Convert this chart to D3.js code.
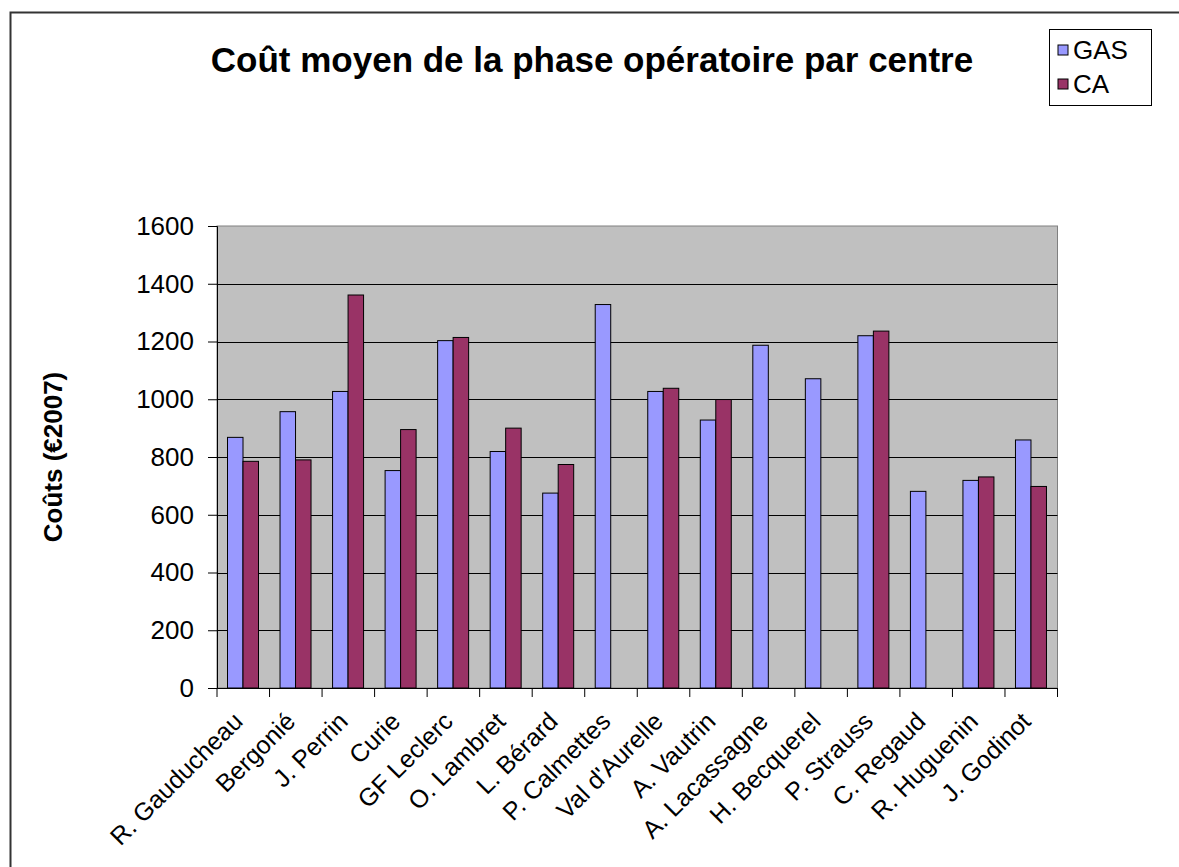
<!DOCTYPE html>
<html>
<head>
<meta charset="utf-8">
<script src="https://cdn.jsdelivr.net/npm/d3@7"></script>
<style>
  body { margin: 0; background: #fff; }
  text { font-family: "Liberation Sans", Arial, sans-serif; }
</style>
</head>
<body>
<div id="chart"></div>
<script>
const centres = ['R. Gauducheau', 'Bergonié', 'J. Perrin', 'Curie', 'GF Leclerc', 'O. Lambret',
  'L. Bérard', 'P. Calmettes', "Val d'Aurelle", 'A. Vautrin', 'A. Lacassagne', 'H. Becquerel',
  'P. Strauss', 'C. Regaud', 'R. Huguenin', 'J. Godinot'];
const gas = [868, 957, 1027, 753, 1203, 819, 675, 1328, 1027, 928, 1187, 1071, 1220, 681, 719, 859];
const ca = [785, 790, 1361, 895, 1214, 900, 774, null, 1038, 999, null, null, 1236, null, 731, 698];
const seriesNames = ['GAS', 'CA'];
const seriesColors = ['#9999FF', '#993366'];
const yTicks = [0, 200, 400, 600, 800, 1000, 1200, 1400, 1600];

const w = 1179, h = 867;
const plot = {left: 217, right: 1057.5, top: 226, bottom: 688};

const svg = d3.select('#chart')
  .append('svg')
  .attr('width', w)
  .attr('height', h);

svg.append('rect').attr('width', w).attr('height', h).attr('fill', '#fff');

// outer frame (left + top only visible)
svg.append('path')
  .attr('d', `M10.5,${h} V12.5 H${w}`)
  .attr('fill', 'none')
  .attr('stroke', '#333')
  .attr('stroke-width', 2);

const x = d3.scaleBand().domain(centres).range([plot.left, plot.right]).padding(0);
const xs = d3.scaleBand().domain(seriesNames).range([10.5, 41.5]).padding(0);
const y = d3.scaleLinear().domain([0, 1600]).range([plot.bottom, plot.top]);

// plot background
svg.append('rect')
  .attr('x', plot.left).attr('y', plot.top)
  .attr('width', plot.right - plot.left).attr('height', plot.bottom - plot.top)
  .attr('fill', '#C0C0C0')
  .attr('stroke', '#808080');

// gridlines
svg.append('g')
  .selectAll('line')
  .data(yTicks.filter(t => t > 0 && t < 1600))
  .join('line')
  .attr('x1', plot.left).attr('x2', plot.right)
  .attr('y1', d => Math.round(y(d)) + 0.5).attr('y2', d => Math.round(y(d)) + 0.5)
  .attr('stroke', '#000');

// bars
const data = centres.map((c, i) => ({centre: c, values: [gas[i], ca[i]]}));
const groups = svg.append('g')
  .selectAll('g')
  .data(data)
  .join('g')
  .attr('transform', d => `translate(${x(d.centre)},0)`);

groups.selectAll('rect')
  .data(d => d.values.map((v, k) => ({name: seriesNames[k], value: v, k})).filter(e => e.value != null))
  .join('rect')
  .attr('x', d => xs(d.name))
  .attr('width', xs.bandwidth())
  .attr('y', d => y(d.value))
  .attr('height', d => y(0) - y(d.value))
  .attr('fill', d => seriesColors[d.k])
  .attr('stroke', '#000')
  .attr('stroke-width', 1);

// y axis
const yAxis = d3.axisLeft(y).tickValues(yTicks).tickSize(9).tickPadding(14).tickFormat(d3.format('d'));
const gy = svg.append('g')
  .attr('transform', `translate(${plot.left},0)`)
  .call(yAxis);
gy.selectAll('text').attr('font-size', 26).attr('fill', '#000')
  .style('font-family', '"Liberation Sans", Arial, sans-serif');
gy.selectAll('line, path').attr('stroke', '#000');

// x axis
const xAxis = d3.axisBottom(x).tickSize(0).tickFormat('');
const gx = svg.append('g')
  .attr('transform', `translate(0,${plot.bottom})`)
  .call(xAxis);
gx.select('.domain').attr('stroke', '#000');
gx.selectAll('.tick').remove();

// category boundary ticks
svg.append('g')
  .selectAll('line')
  .data(centres.concat(['__end']))
  .join('line')
  .attr('x1', (d, i) => i < centres.length ? x(d) : plot.right)
  .attr('x2', (d, i) => i < centres.length ? x(d) : plot.right)
  .attr('y1', plot.bottom).attr('y2', plot.bottom + 9)
  .attr('stroke', '#000');

// x labels rotated
svg.append('g')
  .selectAll('text')
  .data(centres)
  .join('text')
  .attr('transform', d => `translate(${x(d) + x.bandwidth() / 2 + 1},${plot.bottom + 35}) rotate(-45)`)
  .attr('text-anchor', 'end')
  .attr('font-size', 25)
  .text(d => d);

// title
svg.append('text')
  .attr('x', 592).attr('y', 72)
  .attr('text-anchor', 'middle')
  .attr('font-size', 35)
  .attr('font-weight', 'bold')
  .text('Coût moyen de la phase opératoire par centre');

// y axis title
svg.append('text')
  .attr('transform', `translate(62,457) rotate(-90)`)
  .attr('text-anchor', 'middle')
  .attr('font-size', 26)
  .attr('font-weight', 'bold')
  .text('Coûts (€2007)');

// legend
const legend = svg.append('g').attr('transform', 'translate(1049,29)');
legend.append('rect')
  .attr('x', 0.5).attr('y', 0.5).attr('width', 102).attr('height', 76)
  .attr('fill', '#fff').attr('stroke', '#000');
const li = legend.selectAll('g.item')
  .data(seriesNames)
  .join('g')
  .attr('class', 'item')
  .attr('transform', (d, i) => `translate(9,${21 + i * 34})`);
li.append('rect')
  .attr('x', 0).attr('y', -5).attr('width', 10).attr('height', 10)
  .attr('fill', (d, i) => seriesColors[i])
  .attr('stroke', '#000');
li.append('text')
  .attr('x', 15).attr('dy', '0.36em')
  .attr('font-size', 26)
  .text(d => d);
</script>
</body>
</html>
